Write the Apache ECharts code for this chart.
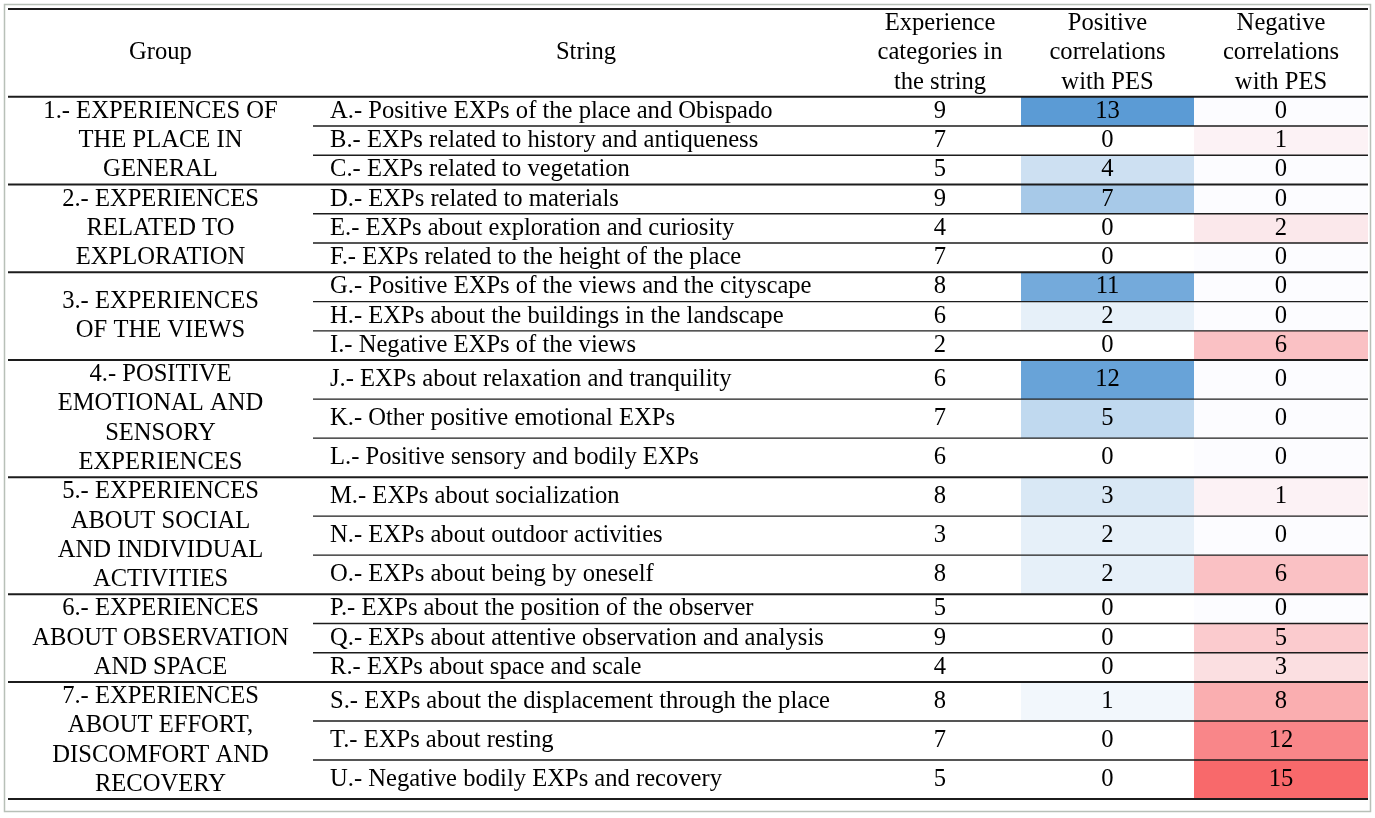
<!DOCTYPE html>
<html>
<head>
<meta charset="utf-8">
<script src="https://cdn.jsdelivr.net/npm/echarts@6/dist/echarts.min.js"></script>
<style>
html,body{margin:0;padding:0;background:#fff;}
#chart{width:1375px;height:818px;}
</style>
</head>
<body>
<div id="chart"></div>
<script>
// ---------------- DATA ----------------
const headers = [
  "Group",
  "String",
  "Experience\ncategories in\nthe string",
  "Positive\ncorrelations\nwith PES",
  "Negative\ncorrelations\nwith PES"
];
const groupLabels = [
  "1.- EXPERIENCES OF\nTHE PLACE IN\nGENERAL",
  "2.- EXPERIENCES\nRELATED TO\nEXPLORATION",
  "3.- EXPERIENCES\nOF THE VIEWS",
  "4.- POSITIVE\nEMOTIONAL AND\nSENSORY\nEXPERIENCES",
  "5.- EXPERIENCES\nABOUT SOCIAL\nAND INDIVIDUAL\nACTIVITIES",
  "6.- EXPERIENCES\nABOUT OBSERVATION\nAND SPACE",
  "7.- EXPERIENCES\nABOUT EFFORT,\nDISCOMFORT AND\nRECOVERY"
];
const groupSizes = [3, 3, 3, 3, 3, 3, 3];
const groupMinLines = [3, 3, 3, 4, 4, 3, 4];
const strings = [
  "A.- Positive EXPs of the place and Obispado",
  "B.- EXPs related to history and antiqueness",
  "C.- EXPs related to vegetation",
  "D.- EXPs related to materials",
  "E.- EXPs about exploration and curiosity",
  "F.- EXPs related to the height of the place",
  "G.- Positive EXPs of the views and the cityscape",
  "H.- EXPs about the buildings in the landscape",
  "I.- Negative EXPs of the views",
  "J.- EXPs about relaxation and tranquility",
  "K.- Other positive emotional EXPs",
  "L.- Positive sensory and bodily EXPs",
  "M.- EXPs about socialization",
  "N.- EXPs about outdoor activities",
  "O.- EXPs about being by oneself",
  "P.- EXPs about the position of the observer",
  "Q.- EXPs about attentive observation and analysis",
  "R.- EXPs about space and scale",
  "S.- EXPs about the displacement through the place",
  "T.- EXPs about resting",
  "U.- Negative bodily EXPs and recovery"
];
const categoryCounts = [9, 7, 5, 9, 4, 7, 8, 6, 2, 6, 7, 6, 8, 3, 8, 5, 9, 4, 8, 7, 5];
const positiveCorr   = [13, 0, 4, 7, 0, 0, 11, 2, 0, 12, 5, 0, 3, 2, 2, 0, 0, 0, 1, 0, 0];
const negativeCorr   = [0, 1, 0, 0, 2, 0, 0, 0, 6, 0, 0, 0, 1, 0, 6, 0, 5, 3, 8, 12, 15];

// ---------------- LAYOUT ----------------
const COL_EDGES = [0, 305, 851, 1013, 1186, 1360];
const STRING_PAD = 17;
const FONT_FAMILY = '"Liberation Serif", "Times New Roman", serif';
const FONT_SIZE = 24.6;
const LINE_COLOR = '#1c1c1c';

// row geometry in "text line" units (tall groups get taller rows)
const headerUnits = Math.max(...headers.map(h => h.split('\n').length));
const rows = [];
const groupsGeo = [];
let yCur = headerUnits;
let rIdx = 0;
groupSizes.forEach((n, g) => {
  const lines = Math.max(groupLabels[g].split('\n').length, groupMinLines[g]);
  const h = Math.max(1, lines / n);
  const y0 = yCur;
  for (let i = 0; i < n; i++) {
    rows.push({ i: rIdx, y0: yCur, y1: yCur + h, last: i === n - 1 });
    yCur += h; rIdx++;
  }
  groupsGeo.push({ y0, y1: yCur });
});
const totalUnits = yCur;

// cells
const posCells = rows.map(r => [COL_EDGES[3], COL_EDGES[4], r.y0, r.y1, positiveCorr[r.i]]);
const negCells = rows.map(r => [COL_EDGES[4], COL_EDGES[5], r.y0, r.y1, negativeCorr[r.i]]);

// rules
const rules = [];
rules.push([COL_EDGES[0], COL_EDGES[5], 0, 1]);
rules.push([COL_EDGES[0], COL_EDGES[5], headerUnits, 1]);
rows.forEach(r => {
  if (r.last) rules.push([COL_EDGES[0], COL_EDGES[5], r.y1, 1]);
  else rules.push([COL_EDGES[1], COL_EDGES[5], r.y1, 0]);
});

// texts
const texts = [];
headers.forEach((h, c) => {
  texts.push({ x: (COL_EDGES[c] + COL_EDGES[c + 1]) / 2, y: headerUnits / 2, text: h, align: 'center' });
});
groupsGeo.forEach((g, k) => {
  texts.push({ x: (COL_EDGES[0] + COL_EDGES[1]) / 2, y: (g.y0 + g.y1) / 2, text: groupLabels[k], align: 'center' });
});
rows.forEach(r => {
  const yc = (r.y0 + r.y1) / 2;
  texts.push({ x: COL_EDGES[1] + STRING_PAD, y: yc, text: strings[r.i], align: 'left' });
  texts.push({ x: (COL_EDGES[2] + COL_EDGES[3]) / 2, y: yc, text: String(categoryCounts[r.i]), align: 'center' });
  texts.push({ x: (COL_EDGES[3] + COL_EDGES[4]) / 2, y: yc, text: String(positiveCorr[r.i]), align: 'center' });
  texts.push({ x: (COL_EDGES[4] + COL_EDGES[5]) / 2, y: yc, text: String(negativeCorr[r.i]), align: 'center' });
});

function renderCell(params, api) {
  const p0 = api.coord([api.value(0), api.value(2)]);
  const p1 = api.coord([api.value(1), api.value(3)]);
  return {
    type: 'rect',
    shape: { x: p0[0], y: p0[1], width: p1[0] - p0[0], height: p1[1] - p0[1] },
    style: { fill: api.visual('color') },
    silent: true
  };
}

const chart = echarts.init(document.getElementById('chart'), null, { renderer: 'canvas' });
chart.setOption({
  animation: false,
  backgroundColor: '#ffffff',
  grid: { left: 8, right: 7, top: 9, bottom: 19 },
  xAxis: { type: 'value', min: COL_EDGES[0], max: COL_EDGES[5], show: false },
  yAxis: { type: 'value', min: 0, max: totalUnits, inverse: true, show: false },
  visualMap: [
    { type: 'continuous', show: false, seriesIndex: 0, dimension: 4, min: 0, max: 13,
      inRange: { color: ['#ffffff', '#5b9bd5'] } },
    { type: 'continuous', show: false, seriesIndex: 1, dimension: 4, min: 0, max: 15,
      inRange: { color: ['#fcfcff', '#f8696b'] } }
  ],
  graphic: [{
    type: 'rect', silent: true, z: 100,
    shape: { x: 4.5, y: 4.5, width: 1366, height: 807 },
    style: { fill: 'none', stroke: '#b8c0b8', lineWidth: 1.5 }
  }],
  series: [
    { type: 'custom', data: posCells, renderItem: renderCell, encode: { x: [0, 1], y: [2, 3] }, z: 1 },
    { type: 'custom', data: negCells, renderItem: renderCell, encode: { x: [0, 1], y: [2, 3] }, z: 1 },
    {
      type: 'custom', z: 3, data: rules, encode: { x: [0, 1], y: 2 },
      renderItem: function (params, api) {
        const p0 = api.coord([api.value(0), api.value(2)]);
        const p1 = api.coord([api.value(1), api.value(2)]);
        const thick = api.value(3) === 1;
        return {
          type: 'line', silent: true,
          shape: { x1: p0[0], y1: p0[1], x2: p1[0], y2: p1[1] },
          style: { stroke: LINE_COLOR, lineWidth: thick ? 2 : 1.4 }
        };
      }
    },
    {
      type: 'custom', z: 4, data: texts.map(t => [t.x, t.y]), encode: { x: 0, y: 1 },
      renderItem: function (params, api) {
        const t = texts[params.dataIndex];
        const p = api.coord([api.value(0), api.value(1)]);
        const unitPx = api.size([0, 1])[1];
        return {
          type: 'text', silent: true,
          x: p[0], y: p[1],
          style: {
            text: t.text,
            align: t.align,
            verticalAlign: 'middle',
            fontFamily: FONT_FAMILY,
            fontSize: FONT_SIZE,
            lineHeight: unitPx,
            fill: '#000000'
          }
        };
      }
    }
  ]
});
</script>
</body>
</html>
